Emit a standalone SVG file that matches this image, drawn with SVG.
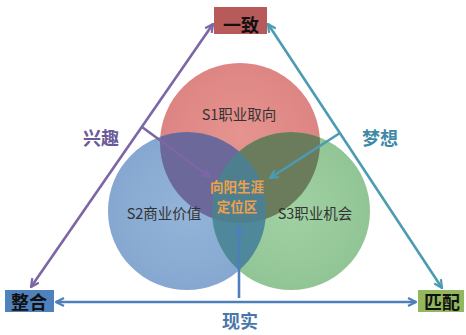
<svg xmlns="http://www.w3.org/2000/svg" width="466" height="335" viewBox="0 0 466 335">
<style>
.lbl{font-family:"Noto Sans CJK SC","Noto Sans",sans-serif;text-anchor:middle}
.box{font-family:"Noto Sans CJK SC",sans-serif;font-weight:bold;font-size:18px;text-anchor:middle;fill:#111}
.s{font-size:14.5px;fill:#333}
.side{font-size:18px;font-weight:bold}
.ctr{font-size:13.5px;font-weight:bold;fill:#f0a04a}
.ln{fill:none;stroke-width:2.6}
</style>
<defs>
<radialGradient id="gR" cx="0.5" cy="0.45" r="0.55"><stop offset="0" stop-color="#e6948f"/><stop offset="0.9" stop-color="#dd8482"/><stop offset="1" stop-color="#d27a78"/></radialGradient>
<radialGradient id="gB" cx="0.5" cy="0.5" r="0.55"><stop offset="0" stop-color="#94b4d9"/><stop offset="0.9" stop-color="#86a8d0"/><stop offset="1" stop-color="#7a9dc6"/></radialGradient>
<radialGradient id="gG" cx="0.5" cy="0.5" r="0.55"><stop offset="0" stop-color="#a0d1a3"/><stop offset="0.9" stop-color="#92c595"/><stop offset="1" stop-color="#84b888"/></radialGradient>
<clipPath id="cR"><circle cx="240" cy="143" r="80"/></clipPath>
<clipPath id="cB"><circle cx="187" cy="211" r="79"/></clipPath>
<clipPath id="cRB"><circle cx="187" cy="211" r="79" clip-path="url(#cR)"/></clipPath>
<marker id="mP" viewBox="0 0 10 10" refX="9" refY="5" markerWidth="10" markerHeight="10" markerUnits="userSpaceOnUse" orient="auto-start-reverse"><path d="M1,1 L9,5 L1,9" fill="none" stroke="#7c66a6" stroke-width="2.2"/></marker>
<marker id="mT" viewBox="0 0 10 10" refX="9" refY="5" markerWidth="10" markerHeight="10" markerUnits="userSpaceOnUse" orient="auto-start-reverse"><path d="M1,1 L9,5 L1,9" fill="none" stroke="#4c9bb2" stroke-width="2.2"/></marker>
<marker id="mB" viewBox="0 0 10 10" refX="9" refY="5" markerWidth="10" markerHeight="10" markerUnits="userSpaceOnUse" orient="auto-start-reverse"><path d="M1,1 L9,5 L1,9" fill="none" stroke="#4f7fbb" stroke-width="2.2"/></marker>
</defs>

<g id="circles">
<g id="s1"><circle cx="240" cy="143" r="80" fill="url(#gR)"/></g>
<g id="s2"><circle cx="187" cy="211" r="79" fill="url(#gB)"/></g>
<g id="s3"><circle cx="291" cy="211" r="79" fill="url(#gG)"/></g>
<circle cx="187" cy="211" r="79" fill="#6c699a" clip-path="url(#cR)"/>
<circle cx="291" cy="211" r="79" fill="#6b7c5c" clip-path="url(#cR)"/>
<circle cx="291" cy="211" r="79" fill="#4f889a" clip-path="url(#cB)"/>
<circle cx="291" cy="211" r="79" fill="#4e7f8f" clip-path="url(#cRB)"/>
</g>

<g id="connectors">
<line class="ln" x1="213" y1="24" x2="31" y2="287" stroke="#7c66a6" marker-start="url(#mP)" marker-end="url(#mP)"/>
<line class="ln" x1="142" y1="127" x2="210" y2="177" stroke="#7c66a6" marker-end="url(#mP)"/>
<line class="ln" x1="268" y1="24" x2="442" y2="288" stroke="#4c9bb2" marker-start="url(#mT)" marker-end="url(#mT)"/>
<line class="ln" x1="340" y1="133" x2="270" y2="178" stroke="#4c9bb2" marker-end="url(#mT)"/>
<line class="ln" x1="56" y1="302" x2="416" y2="302" stroke="#4f7fbb" marker-start="url(#mB)" marker-end="url(#mB)"/>
<line class="ln" x1="239" y1="298" x2="239" y2="226" stroke="#4f7fbb" marker-end="url(#mB)"/>
</g>

<g id="top"><rect x="214" y="7" width="53" height="27" fill="#b85a5a"/><text class="box" x="241" y="32">一致</text></g>
<g id="left"><rect x="5" y="290" width="49" height="22" fill="#4f81bd"/><text class="box" x="29" y="309">整合</text></g>
<g id="right"><rect x="418" y="290" width="46" height="22" fill="#92b75c"/><text class="box" x="442" y="309">匹配</text></g>

<g id="labels">
<text class="lbl s" x="239" y="120">S1职业取向</text>
<text class="lbl s" x="164" y="219">S2商业价值</text>
<text class="lbl s" x="315" y="219">S3职业机会</text>
<text class="lbl ctr" x="237" y="192">向阳生涯</text>
<text class="lbl ctr" x="237" y="212">定位区</text>
<text class="lbl side" x="101" y="145" fill="#6a5a9a">兴趣</text>
<text class="lbl side" x="380" y="145" fill="#3f89a6">梦想</text>
<text class="lbl side" x="240" y="328" fill="#4a76aa">现实</text>
</g>
</svg>
